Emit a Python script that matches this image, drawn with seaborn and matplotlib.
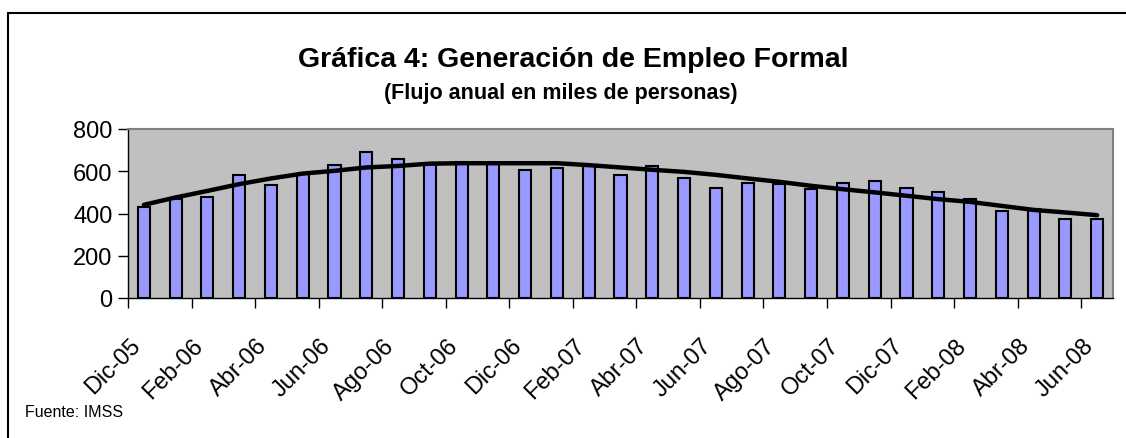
import numpy as np
import pandas as pd
import seaborn as sns
import matplotlib.pyplot as plt
import matplotlib.transforms as mtransforms
from matplotlib.lines import Line2D

# Data (miles de personas)
meses = ['Dic-05', 'Ene-06', 'Feb-06', 'Mar-06', 'Abr-06', 'May-06', 'Jun-06',
         'Jul-06', 'Ago-06', 'Sep-06', 'Oct-06', 'Nov-06', 'Dic-06', 'Ene-07',
         'Feb-07', 'Mar-07', 'Abr-07', 'May-07', 'Jun-07', 'Jul-07', 'Ago-07',
         'Sep-07', 'Oct-07', 'Nov-07', 'Dic-07', 'Ene-08', 'Feb-08', 'Mar-08',
         'Abr-08', 'May-08', 'Jun-08']
flujo = [429, 468, 479, 581, 534, 586, 629, 692, 656, 635, 642, 640, 607, 616,
         623, 581, 627, 570, 523, 543, 540, 515, 544, 552, 523, 504, 468, 413,
         420, 373, 373]
tendencia = [441, 476, 507, 539, 566, 589, 602, 618, 625, 636, 638, 638, 638,
             638, 629, 618, 607, 597, 583, 566, 550, 531, 515, 500, 484, 468,
             455, 436, 417, 405, 392]
etiquetas = meses[::2]
y_ticks = [0, 200, 400, 600, 800]

df = pd.DataFrame({'mes': meses, 'flujo': flujo, 'tendencia': tendencia})
df['pos'] = np.arange(len(df))

sns.set_style('ticks')
plt.rcParams['font.family'] = ['Liberation Sans', 'DejaVu Sans']
plt.rcParams['text.color'] = 'black'
plt.rcParams['xtick.color'] = 'black'
plt.rcParams['ytick.color'] = 'black'
plt.rcParams['xtick.labelcolor'] = 'black'
plt.rcParams['ytick.labelcolor'] = 'black'

W, H = 1126, 439
fig = plt.figure(figsize=(W / 100, H / 100), dpi=100)
ax = fig.add_axes([128 / W, 1 - 299 / H, (1113 - 128) / W, (299 - 130) / H])
ax.set_facecolor('#C0C0C0')

sns.barplot(data=df, x='mes', y='flujo', color='#9999FF', saturation=1,
            width=0.38, edgecolor='black', linewidth=1.5, ax=ax, zorder=2)
sns.lineplot(data=df, x='pos', y='tendencia', color='black', linewidth=3.2,
             ax=ax, zorder=3)

ax.set_xlim(-0.5, len(meses) - 0.5)
ax.set_ylim(0, 800)
ax.set_yticks(y_ticks)
ax.tick_params(axis='y', labelsize=17, length=7, width=1, color='black',
               labelcolor='black', pad=4)

# labels every second month, tick marks between category pairs
ax.set_xticks(np.arange(0, len(meses), 2))
ax.set_xticklabels(etiquetas, rotation=45, ha='right', rotation_mode='anchor')
ax.tick_params(axis='x', which='major', length=0, labelsize=17, pad=26,
               labelcolor='black')
ax.set_xticks(np.arange(-0.5, len(meses) - 1, 2), minor=True)
ax.tick_params(axis='x', which='minor', length=7, width=1, color='black')
shift = mtransforms.ScaledTranslation(-0.15, 0, fig.dpi_scale_trans)
for lab in ax.get_xticklabels():
    lab.set_transform(lab.get_transform() + shift)

ax.set_xlabel('')
ax.set_ylabel('')
for side in ['left', 'bottom']:
    ax.spines[side].set_color('black')
    ax.spines[side].set_linewidth(1)
for side in ['top', 'right']:
    ax.spines[side].set_color('#808080')
    ax.spines[side].set_linewidth(1.5)

# titles and source
fig.text(573 / W, 1 - 60 / H, 'Gráfica 4: Generación de Empleo Formal',
         ha='center', va='center', fontsize=20.5, fontweight='bold',
         color='black')
fig.text(561 / W, 1 - 93 / H, '(Flujo anual en miles de personas)',
         ha='center', va='center', fontsize=15.5, fontweight='bold',
         color='black')
fig.text(25 / W, 1 - 413 / H, 'Fuente: IMSS', ha='left', va='center',
         fontsize=11.5, color='black')

# outer chart border (runs off the right and bottom of the image)
fig.add_artist(Line2D([8 / W, 8 / W], [0, 1 - 14 / H], color='black',
                      linewidth=1.5, transform=fig.transFigure))
fig.add_artist(Line2D([8 / W, 1], [1 - 14 / H, 1 - 14 / H], color='black',
                      linewidth=1.5, transform=fig.transFigure))

fig.savefig('out.png', dpi=100)
